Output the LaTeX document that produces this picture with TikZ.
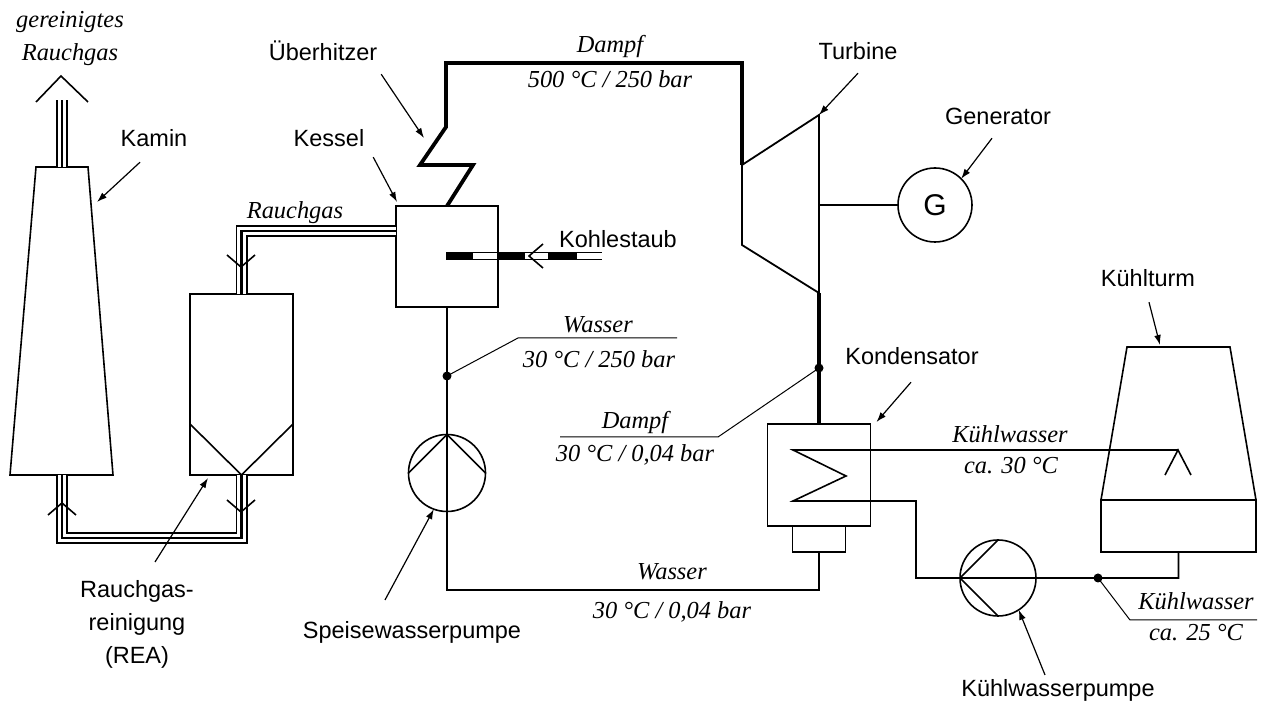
\documentclass[tikz,border=0pt]{standalone}
\usepackage{fontspec}
\setmainfont{Liberation Serif}
\setsansfont{Liberation Sans}
\usetikzlibrary{arrows.meta}

\begin{document}
\begin{tikzpicture}[x=0.5pt, y=-0.5pt, line join=miter,
  every node/.style={inner sep=0pt, outer sep=0pt},
  tag/.style={font=\sffamily\fontsize{11.75}{16.5}\selectfont, anchor=base},
  medium/.style={font=\itshape\fontsize{12.2}{14}\selectfont, anchor=base},
  apparat/.style={draw, line width=0.8pt},
  pumpe/.style={draw, circle, line width=0.8pt, minimum size=38.5pt},
  pipe/.style={line width=0.8pt},
  steam/.style={line width=1.9pt},
  lead/.style={line width=0.5pt},
  callout/.style={line width=0.6pt, -{Latex[length=5pt,width=3.4pt]}},
  duct/.style={draw=white, line width=4.2pt,
    preaction={draw=black, line width=6pt},
    postaction={draw=black, line width=1.3pt}},
  pkt/.style={circle, fill, minimum size=4.5pt}]

\useasboundingbox (0,0) rectangle (1266,710);

% Apparate
\node[apparat, minimum width=51pt, minimum height=50.5pt] (kessel) at (447,256.5) {};
\node[apparat, minimum width=51.5pt, minimum height=90.5pt] (rea) at (241.5,384.5) {};
\node[apparat, minimum width=51.5pt, minimum height=51pt] (kond) at (819,475) {};
\node[apparat, minimum width=26.5pt, minimum height=13pt, anchor=north] (sammler) at (kond.south) {};
\node[apparat, minimum width=77.5pt, minimum height=26pt, anchor=north west] (becken) at (1101,500) {};
\node[pumpe] (spw) at (447,473) {};
\node[pumpe, minimum size=38pt] (kwp) at (998,578) {};
\node[pumpe, minimum size=37pt, font=\sffamily\fontsize{15}{18}\selectfont] (gen) at (935,205) {G};

\coordinate (kaminkopf) at (62,167);
\coordinate (kaminfuss) at (62,475);
\coordinate (tein) at (742,165);
\coordinate (tkopf) at (819,115);
\coordinate (taus) at (819,293);
\coordinate (wu) at (447,590);
\coordinate (kt) at (1178,450);

% Kamin und Rauchgas
\draw[pipe] (36,167) -- (88,167) -- (113,475) -- (10,475) -- cycle;
\draw[duct] (kaminkopf) -- (62,100);
\draw[duct] ([yshift=12.75pt]kessel.west) -| (rea.north);
\draw[duct] (rea.south) -- ++(0,63) -| (kaminfuss);
\draw[pipe] (36,102) -- (61,76) -- (88,102);
\draw[pipe] (227,255) -- (241,267) -- (255,255);
\draw[pipe] (227,500) -- (241,512) -- (255,500);
\draw[pipe] (48,515) -- (62,503) -- (76,515);
\draw[pipe] (190,424) -- (rea.south) -- (293,424);

% Kohlestaub
\draw[line width=0.6pt] (446,252.5) -- (602,252.5) (446,259.5) -- (602,259.5);
\foreach \a/\b in {446/473, 498/525, 548/577}
  \fill (\a,252.5) rectangle (\b,259.5);
\draw[pipe] (543,244) -- (529,256) -- (543,268);

% Dampf
\draw[steam] (kessel.north) -- (473,165) -- (420,165) -- (446,127) -- (446,63) -| (tein);
\draw[line width=0.9pt] (tein) -- (tkopf) -- (taus) -- (742,245) -- cycle;
\draw[steam] (taus) -- (kond.north);
\draw[pipe] (819,205) -- (gen.west);

% Wasser
\draw[pipe] (kessel.south) -- (spw.north) -- (spw.south) -- (wu) -| (sammler.south);
\draw[pipe] (spw.west) -- (spw.north) -- (spw.east);

% Kuehlwasser
\draw[pipe] (kt) -- (793,450) -- (846,476) -- (793,501) -- (916,501) |- (kwp.west)
  -- (kwp.east) -| (becken.south);
\draw[pipe] (1165,475) -- (kt) -- (1191,475);
\draw[pipe] (kwp.north) -- (kwp.west) -- (kwp.south);
\draw[pipe] (becken.north west) -- (1127,347) -- (1230,347) -- (becken.north east);

% Messstellen
\node[pkt] (p1) at (447,376) {};
\node[pkt] (p2) at (819,368) {};
\node[pkt] (p3) at (1098,578) {};
\draw[lead] (p1.center) -- (518,338) -- (677,338);
\draw[lead] (p2.center) -- (718,437) -- (560,437);
\draw[lead] (p3.center) -- (1130,620) -- (1257,620);

% Beschriftung
\node[medium] (ger) at (70,28) {gereinigtes};
\node[medium] (rg1) at (70,61) {Rauchgas};
\node[medium] (rg2) at (295,219) {Rauchgas};
\node[medium] (d1) at (610,53) {Dampf};
\node[medium] (d1w) at (610,88) {500 °C / 250 bar};
\node[medium] (w1) at (598,333) {Wasser};
\node[medium] (w1w) at (599,368) {30 °C / 250 bar};
\node[medium] (d2) at (635,429) {Dampf};
\node[medium] (d2w) at (635,462) {30 °C / 0,04 bar};
\node[medium] (w2) at (672,580) {Wasser};
\node[medium] (w2w) at (672,619) {30 °C / 0,04 bar};
\node[medium] (kw1) at (1010,443) {Kühlwasser};
\node[medium] (kw1w) at (1011,474) {ca. 30 °C};
\node[medium] (kw2) at (1196,610) {Kühlwasser};
\node[medium] (kw2w) at (1196,641) {ca. 25 °C};
\node[tag] (kohle) at (618,248) {Kohlestaub};

\node[tag] (kamin) at (154,147) {Kamin};
\draw[callout] ([shift={(-14,15)}]kamin.south) -- (97,202);
\node[tag] (ueber) at (323,61) {Überhitzer};
\draw[callout] ([shift={(4,13)}]ueber.south east) -- (424,138);
\node[tag] (kessellbl) at (329,147) {Kessel};
\draw[callout] ([shift={(9,10)}]kessellbl.south east) -- ([shift={(1,-4)}]kessel.north west);
\node[tag] (turb) at (858,60) {Turbine};
\draw[callout] ([shift={(0,13)}]turb.south) -- (tkopf);
\node[tag] (genlbl) at (998,125) {Generator};
\draw[callout] ([shift={(-6,13)}]genlbl.south) -- (gen.45);
\node[tag] (turm) at (1148,287) {Kühlturm};
\draw[callout] ([shift={(1,15)}]turm.south) -- (1160,345);
\node[tag] (kondlbl) at (912,365) {Kondensator};
\draw[callout] ([shift={(-1,17)}]kondlbl.south) -- ([shift={(6,-2)}]kond.north east);
\node[tag, anchor=north, align=center] (realbl) at (137,580) {Rauchgas-\\reinigung\\(REA)};
\draw[callout] ([shift={(18,-18)}]realbl.north) -- ([shift={(18,3)}]rea.south west);
\node[tag] (spwlbl) at (412,639) {Speisewasserpumpe};
\draw[callout] ([shift={(-27,-22)}]spwlbl.north) -- (spw.-110);
\node[tag] (kwplbl) at (1058,697) {Kühlwasserpumpe};
\draw[callout] ([shift={(-13,-5)}]kwplbl.north) -- (kwp.-57);
\end{tikzpicture}
\end{document}
